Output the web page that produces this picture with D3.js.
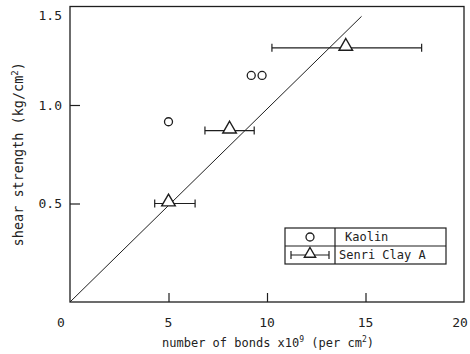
<!DOCTYPE html>
<html>
<head>
<meta charset="utf-8">
<script src="https://cdn.jsdelivr.net/npm/d3@7"></script>
<style>
  html, body { margin: 0; padding: 0; background: #fff; }
  svg text { font-family: "DejaVu Sans Mono", "Liberation Mono", monospace; fill: #222; }
</style>
</head>
<body>
<svg id="chart" width="470" height="354"></svg>
<script>
// Kaolin: bond count (x10^9 per cm^2) vs shear strength (kg/cm^2)
const kaolinBonds = [5.0, 9.2, 9.75];
const kaolinStrength = [0.915, 1.15, 1.15];

// Senri Clay A: mean bond count with its range, and shear strength
const senriBonds = [5.0, 8.1, 14.0];
const senriBondsLow = [4.3, 6.85, 10.25];
const senriBondsHigh = [6.35, 9.35, 17.85];
const senriStrength = [0.5, 0.87, 1.29];

// Proportional fit through the origin
const fitBonds = [0, 14.8];
const fitStrength = [0, 1.45];

const xTicks = [0, 5, 10, 15, 20];
const yTicks = [0.5, 1.0, 1.5];
const yTickLabels = ["0.5", "1.0", "1.5"];

const svg = d3.select("#chart");
const ink = "#1e1e1e";

const x = d3.scaleLinear().domain([0, 20]).range([70, 464]);
const y = d3.scaleLinear().domain([0, 1.5]).range([302, 6.5]);

// Frame
svg.append("rect")
  .attr("x", x(0)).attr("y", y(1.5))
  .attr("width", x(20) - x(0)).attr("height", y(0) - y(1.5))
  .attr("fill", "none").attr("stroke", ink).attr("stroke-width", 1.3);

// Bottom axis: inward ticks, labels below
const xAxis = d3.axisBottom(x).tickValues(xTicks.filter(d => d > 0 && d < 20))
  .tickSize(-9).tickFormat("");
svg.append("g").attr("transform", `translate(0,${y(0)})`).call(xAxis)
  .call(g => g.select(".domain").remove())
  .call(g => g.selectAll("line").attr("stroke", ink).attr("stroke-width", 1.2));

svg.append("g").selectAll("text").data(xTicks).join("text")
  .attr("x", d => d === 0 ? x(d) - 9 : (d === 20 ? x(d) - 4 : x(d)))
  .attr("y", 327)
  .attr("text-anchor", "middle")
  .attr("font-size", 13)
  .text(d => d);

// Left axis: inward ticks, labels to the left
const yAxis = d3.axisLeft(y).tickValues(yTicks.filter(d => d < 1.5))
  .tickSize(-10).tickFormat("");
svg.append("g").attr("transform", `translate(${x(0)},0)`).call(yAxis)
  .call(g => g.select(".domain").remove())
  .call(g => g.selectAll("line").attr("stroke", ink).attr("stroke-width", 1.2));

svg.append("g").selectAll("text").data(yTicks).join("text")
  .attr("x", 62)
  .attr("y", (d, i) => y(d) + (d === 1.5 ? 9 : 0))
  .attr("dy", "0.35em")
  .attr("text-anchor", "end")
  .attr("font-size", 13)
  .text((d, i) => yTickLabels[i]);

// Axis titles
const xTitle = svg.append("text")
  .attr("x", 268).attr("y", 347)
  .attr("text-anchor", "middle").attr("font-size", 12);
xTitle.append("tspan").text("number of bonds x10");
xTitle.append("tspan").attr("dy", -5).attr("font-size", 8).text("9");
xTitle.append("tspan").attr("dy", 5).text(" (per cm");
xTitle.append("tspan").attr("dy", -5).attr("font-size", 8).text("2");
xTitle.append("tspan").attr("dy", 5).text(")");

const yTitle = svg.append("text")
  .attr("transform", `translate(23,${y(0.75)}) rotate(-90)`)
  .attr("text-anchor", "middle").attr("font-size", 13.5);
yTitle.append("tspan").text("shear strength (kg/cm");
yTitle.append("tspan").attr("dy", -5).attr("font-size", 9).text("2");
yTitle.append("tspan").attr("dy", 5).text(")");

// Fit line
const line = d3.line().x(d => x(d[0])).y(d => y(d[1]));
svg.append("path")
  .datum(d3.zip(fitBonds, fitStrength))
  .attr("d", line)
  .attr("fill", "none").attr("stroke", ink).attr("stroke-width", 1);

// Error bars for Senri Clay A
const cap = 4;
const eb = svg.append("g").attr("stroke", ink).attr("stroke-width", 1.2);
senriBonds.forEach((b, i) => {
  const yy = y(senriStrength[i]);
  eb.append("line").attr("x1", x(senriBondsLow[i])).attr("x2", x(senriBondsHigh[i]))
    .attr("y1", yy).attr("y2", yy);
  [senriBondsLow[i], senriBondsHigh[i]].forEach(v => {
    eb.append("line").attr("x1", x(v)).attr("x2", x(v))
      .attr("y1", yy - cap).attr("y2", yy + cap);
  });
});

// Triangle markers
const tri = d3.symbol().type(d3.symbolTriangle).size(80);
svg.append("g").selectAll("path").data(d3.zip(senriBonds, senriStrength)).join("path")
  .attr("transform", d => `translate(${x(d[0])},${y(d[1]) - 1.5})`)
  .attr("d", tri)
  .attr("fill", "#fff").attr("stroke", ink).attr("stroke-width", 1.4);

// Circle markers
svg.append("g").selectAll("circle").data(d3.zip(kaolinBonds, kaolinStrength)).join("circle")
  .attr("cx", d => x(d[0])).attr("cy", d => y(d[1]))
  .attr("r", 4)
  .attr("fill", "none").attr("stroke", ink).attr("stroke-width", 1.3);

// Legend
const lg = svg.append("g").attr("transform", "translate(285,228)");
const lw = 161, lh = 36, split = 50;
lg.append("rect").attr("width", lw).attr("height", lh)
  .attr("fill", "#fff").attr("stroke", ink).attr("stroke-width", 1.2);
lg.append("line").attr("x1", 0).attr("x2", lw).attr("y1", lh / 2).attr("y2", lh / 2)
  .attr("stroke", ink).attr("stroke-width", 1.2);
lg.append("line").attr("x1", split).attr("x2", split).attr("y1", 0).attr("y2", lh)
  .attr("stroke", ink).attr("stroke-width", 1.2);
lg.append("circle").attr("cx", split / 2).attr("cy", 9).attr("r", 4)
  .attr("fill", "none").attr("stroke", ink).attr("stroke-width", 1.3);
const ly = 27;
const legTri = d3.symbol().type(d3.symbolTriangle).size(55);
lg.append("line").attr("x1", 6).attr("x2", split - 6).attr("y1", ly).attr("y2", ly)
  .attr("stroke", ink).attr("stroke-width", 1.2);
[6, split - 6].forEach(v => lg.append("line").attr("x1", v).attr("x2", v)
  .attr("y1", ly - 4).attr("y2", ly + 4).attr("stroke", ink).attr("stroke-width", 1.2));
lg.append("path").attr("transform", `translate(${split / 2},${ly - 1})`).attr("d", legTri)
  .attr("fill", "#fff").attr("stroke", ink).attr("stroke-width", 1.4);
lg.append("text").attr("x", split + 10).attr("y", 9).attr("dy", "0.35em")
  .attr("font-size", 12).text("Kaolin");
lg.append("text").attr("x", split + 4).attr("y", ly).attr("dy", "0.35em")
  .attr("font-size", 12).text("Senri Clay A");
</script>
</body>
</html>
